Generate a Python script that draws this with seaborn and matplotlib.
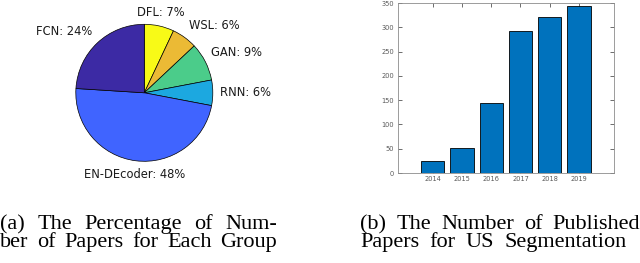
import matplotlib
matplotlib.use("Agg")
import matplotlib.pyplot as plt
import numpy as np
import seaborn as sns

# pie data, clockwise from the top
groups = ["DFL", "WSL", "GAN", "RNN", "EN-DEcoder", "FCN"]
shares = [7, 6, 9, 6, 48, 24]
pie_colors = ["#F8FA17", "#EBBA35", "#4BCC8A", "#1CA8E0", "#4064FF", "#3C2AA4"]

# bar data
years = ["2014", "2015", "2016", "2017", "2018", "2019"]
papers = [25, 52, 145, 292, 322, 344]

caption_a = ["(a) The Percentage of Num-", "ber of Papers for Each Group"]
caption_b = ["(b) The Number of Published", "Papers for US Segmentation"]


def place_line(fig, text, x0, y, width=None, **kw):
    # width given -> spread the words so the line fills it
    words = text.split(" ")
    renderer = fig.canvas.get_renderer()
    W = fig.bbox.width
    objs = [fig.text(0, y, w, va="baseline", ha="left", **kw) for w in words]
    widths = [o.get_window_extent(renderer).width for o in objs]
    a = fig.text(0, y, "a b", **kw)
    b = fig.text(0, y, "ab", **kw)
    gap = a.get_window_extent(renderer).width - b.get_window_extent(renderer).width
    a.remove()
    b.remove()
    if width is not None and len(words) > 1:
        gap = max(gap, (width - sum(widths)) / (len(words) - 1))
    x = x0
    for o, w in zip(objs, widths):
        o.set_x(x / W)
        x += w + gap


def main():
    sns.set_theme(style="white")
    plt.rcParams["font.family"] = ["DejaVu Sans"]

    fig = plt.figure(figsize=(6.4, 2.63), dpi=100)
    W, H = 640, 263

    # pie
    cx, cy, r = 144.3, 92.8, 68.5
    ax1 = fig.add_axes([(cx - r) / W, (H - cy - r) / H, 2 * r / W, 2 * r / H])
    labels = [f"{g}: {s}%" for g, s in zip(groups, shares)]
    wedges, texts = ax1.pie(shares, labels=labels, colors=pie_colors, startangle=90,
                            counterclock=False, labeldistance=1.1,
                            wedgeprops=dict(edgecolor="black", linewidth=0.5),
                            textprops=dict(fontsize=8.3, color="#1a1a1a"))
    for w, t in zip(wedges, texts):
        ang = np.deg2rad((w.theta1 + w.theta2) / 2)
        x, y = np.cos(ang), np.sin(ang)
        t.set_ha("center" if abs(x) < 0.3 else ("left" if x > 0 else "right"))
        t.set_va("bottom" if y > 0.1 else ("top" if y < -0.1 else "center"))
    ax1.set_xlim(-1, 1)
    ax1.set_ylim(-1, 1)
    ax1.set_aspect("auto")

    # bars
    left, right, top, bottom = 397.7, 614, 3, 173
    ax2 = fig.add_axes([left / W, 1 - bottom / H, (right - left) / W, (bottom - top) / H])
    sns.barplot(x=years, y=papers, color="#0072BD", saturation=1, width=0.8,
                edgecolor="black", linewidth=0.6, ax=ax2)
    ax2.set_xlim(-1.2, 6.2)
    ax2.set_ylim(0, 350)
    ax2.set_yticks(range(0, 351, 50))
    ax2.tick_params(direction="in", length=3, width=0.5, color="0.2", labelcolor="0.35",
                    labelsize=4.8, pad=2.5, top=True, right=True, bottom=True, left=True)
    for s in ax2.spines.values():
        s.set_color("0.55")
        s.set_linewidth(0.6)
    ax2.set_xlabel("")
    ax2.set_ylabel("")

    # captions
    cap = dict(fontsize=16, family="Liberation Serif", color="black")
    place_line(fig, caption_a[0], 0, 1 - 229.3 / H, width=277, **cap)
    place_line(fig, caption_a[1], 0, 1 - 247.3 / H, width=277, **cap)
    place_line(fig, caption_b[0], 360, 1 - 229.3 / H, width=280, **cap)
    place_line(fig, caption_b[1], 360.5, 1 - 247.3 / H, width=266, **cap)

    fig.savefig("out.png", dpi=100)


if __name__ == "__main__":
    main()
